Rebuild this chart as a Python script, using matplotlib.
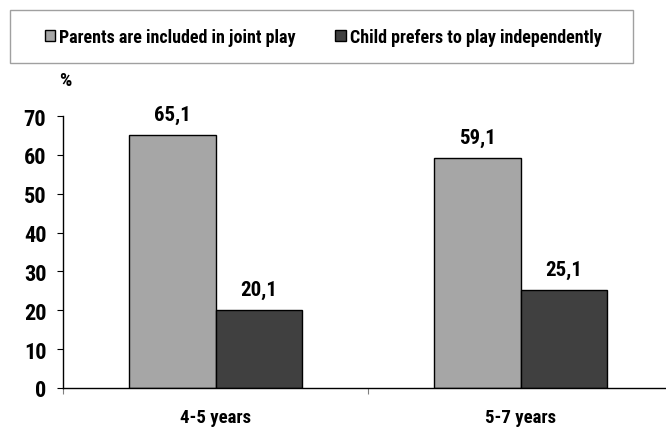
import matplotlib
matplotlib.use("Agg")
import matplotlib.pyplot as plt
from matplotlib.patches import Rectangle

plt.rcParams['font.family'] = ['Liberation Sans Narrow', 'Roboto Condensed', 'Liberation Sans', 'DejaVu Sans']
plt.rcParams['font.weight'] = 'bold'

# data
age_groups = ["4-5 years", "5-7 years"]
series_names = ["Parents are included in joint play", "Child prefers to play independently"]
joint_play = [65.1, 59.1]
independent = [20.1, 25.1]
bar_colors = ["#a6a6a6", "#404040"]

fig = plt.figure(figsize=(6.66, 4.31), dpi=100)
ax = fig.add_axes([63 / 666, 1 - 389 / 431, 610 / 666, 272 / 431])

x = list(range(len(age_groups)))
w = 0.285
b1 = ax.bar([i - w / 2 for i in x], joint_play, w, color=bar_colors[0],
            edgecolor="black", linewidth=1, label=series_names[0])
b2 = ax.bar([i + w / 2 for i in x], independent, w, color=bar_colors[1],
            edgecolor="black", linewidth=1, label=series_names[1])

for bars in (b1, b2):
    for r in bars:
        v = r.get_height()
        ax.annotate(f"{v:.1f}".replace(".", ","),
                    (r.get_x() + r.get_width() / 2, v),
                    xytext=(0, 8), textcoords="offset points",
                    ha="center", va="bottom", fontsize=15, fontweight="bold")

ax.set_xlim(-0.5, 1.5)
ax.set_ylim(0, 70)
ax.set_yticks(range(0, 71, 10))
ax.set_xticks([-0.5, 0.5, 1.5])
ax.set_xticklabels([])
for i, lab in enumerate(age_groups):
    ax.text(i, -7.5, lab, ha="center", va="center", fontsize=13.5, fontweight="bold")

ax.tick_params(axis="y", length=4, width=0.8, pad=8, labelsize=16)
ax.tick_params(axis="x", length=4, width=0.8, color="#808080")
for s in ("top", "right"):
    ax.spines[s].set_visible(False)
ax.spines["left"].set_linewidth(1)
ax.spines["bottom"].set_linewidth(1)
ax.spines["bottom"].set_clip_on(False)

fig.text(65 / 666, 1 - 81 / 431, "%", ha="center", va="center", fontsize=14, fontweight="bold")

# legend box
fig.patches.append(Rectangle((10 / 666, 1 - 64 / 431), 623 / 666, 53 / 431,
                             transform=fig.transFigure, facecolor="white",
                             edgecolor="#a0a0a0", linewidth=1))
fig.legend(handles=[b1, b2], loc="center", bbox_to_anchor=(323 / 666, 1 - 38 / 431),
           ncol=2, frameon=False, fontsize=13, handlelength=0.6, handleheight=0.6,
           handletextpad=0.2, columnspacing=2.2)

fig.savefig("out.png", dpi=100)
